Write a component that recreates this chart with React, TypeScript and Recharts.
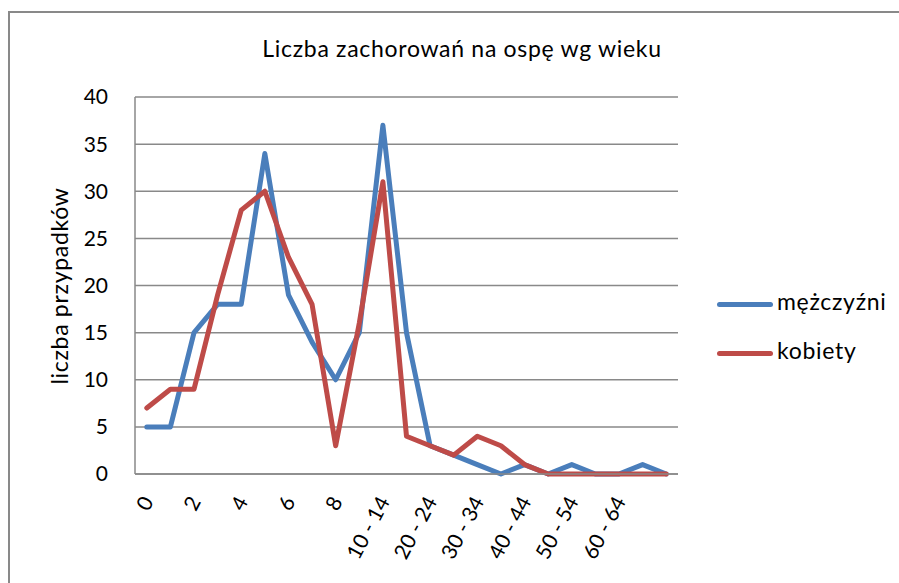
import { LineChart, Line, XAxis, YAxis, CartesianGrid } from "recharts";

// age groups (last group has no label in the source)
const categories = [
	"0", "1", "2", "3", "4", "5", "6", "7", "8", "9",
	"10 - 14", "15 - 19", "20 - 24", "25 - 29", "30 - 34", "35 - 39",
	"40 - 44", "45 - 49", "50 - 54", "55 - 59", "60 - 64", "65 - 69", "",
];
const men = [5, 5, 15, 18, 18, 34, 19, 14, 10, 15, 37, 15, 3, 2, 1, 0, 1, 0, 1, 0, 0, 1, 0];
const women = [7, 9, 9, 19, 28, 30, 23, 18, 3, 16, 31, 4, 3, 2, 4, 3, 1, 0, 0, 0, 0, 0, 0];
const yTicks = [0, 5, 10, 15, 20, 25, 30, 35, 40];

const data = categories.map((c, i) => ({ wiek: c, m: men[i], k: women[i] }));

const FONT = "Lato, 'Open Sans', sans-serif";
const BLUE = "#4a7ebb";
const RED = "#be4b48";
const GRID = "#898989";

const textStyle = { fontFamily: FONT, fontSize: 23, letterSpacing: 0.7, color: "#000" };

const AgeTick = (props: any) => {
	const { x, y, payload } = props;
	return (
		<g transform={`translate(${x + 1},${y + 22})`}>
			<text x={0} y={0} dy="0.35em" textAnchor="end" transform="rotate(-62)" fontSize={21} fontFamily={FONT} fill="#000">
				{payload.value}
			</text>
		</g>
	);
};

const legendItems = [
	{ name: "mężczyźni", color: BLUE, y: 304 },
	{ name: "kobiety", color: RED, y: 353 },
];

export default function App() {
	return (
		<div style={{ position: "absolute", left: 0, top: 0, width: 899, height: 583, overflow: "hidden", background: "#fff" }}>
			<div style={{ position: "absolute", left: 8, top: 11, width: 1000, height: 1000, border: `2px solid ${GRID}` }} />
			<div style={{ ...textStyle, position: "absolute", left: 0, width: 924, top: 34, textAlign: "center", whiteSpace: "nowrap" }}>
				Liczba zachorowań na ospę wg wieku
			</div>
			<div style={{ ...textStyle, position: "absolute", left: 59, top: 286, transform: "translate(-50%,-50%) rotate(-90deg)", whiteSpace: "nowrap" }}>
				liczba przypadków
			</div>
			<div style={{ position: "absolute", left: 0, top: 0 }}>
				<LineChart width={899} height={583} data={data} margin={{ top: 97, right: 221, bottom: 9, left: 75 }}>
					<CartesianGrid vertical={false} stroke={GRID} strokeWidth={1.5} />
					<XAxis
						dataKey="wiek"
						interval={1}
						height={100}
						padding={{ left: 11.8, right: 11.8 }}
						axisLine={{ stroke: GRID, strokeWidth: 1.5 }}
						tickLine={false}
						tickSize={0}
						tick={<AgeTick />}
					/>
					<YAxis
						width={60}
						domain={[0, 40]}
						ticks={yTicks}
						axisLine={{ stroke: GRID, strokeWidth: 1.5 }}
						tickLine={false}
						tickSize={0}
						tickMargin={27}
						tick={{ fontSize: 21, fontFamily: FONT, fill: "#000" }}
					/>
					<Line type="linear" dataKey="m" name="mężczyźni" stroke={BLUE} strokeWidth={5} dot={false} strokeLinejoin="round" strokeLinecap="round" isAnimationActive={false} />
					<Line type="linear" dataKey="k" name="kobiety" stroke={RED} strokeWidth={5} dot={false} strokeLinejoin="round" strokeLinecap="round" isAnimationActive={false} />
				</LineChart>
			</div>
			{legendItems.map((it) => (
				<div key={it.name} style={{ position: "absolute", left: 717, top: it.y - 15, height: 30, display: "flex", alignItems: "center" }}>
					<div style={{ width: 56, height: 5, borderRadius: 3, background: it.color, marginRight: 4 }} />
					<span style={{ ...textStyle, lineHeight: "23px", position: "relative", top: -3, whiteSpace: "nowrap" }}>{it.name}</span>
				</div>
			))}
		</div>
	);
}
